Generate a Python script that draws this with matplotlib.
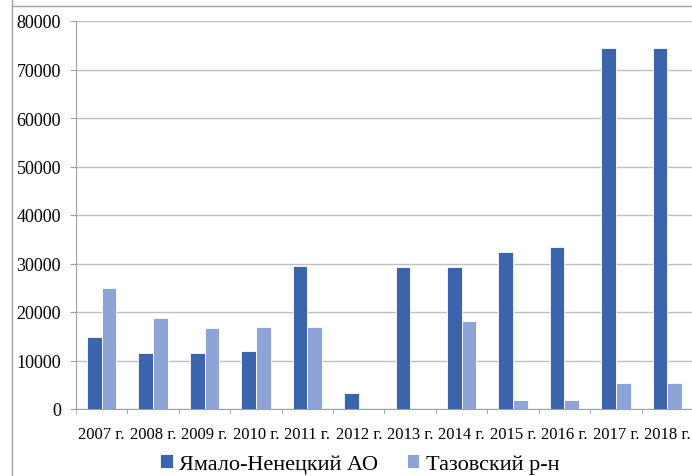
import numpy as np
import matplotlib.pyplot as plt
from matplotlib.lines import Line2D

years = ["2007 г.", "2008 г.", "2009 г.", "2010 г.", "2011 г.", "2012 г.",
         "2013 г.", "2014 г.", "2015 г.", "2016 г.", "2017 г.", "2018 г."]
yanao = [14900, 11600, 11600, 11900, 29500, 3300,
         29300, 29300, 32300, 33500, 74400, 74400]
tazov = [25000, 18700, 16600, 16900, 16900, 0,
         0, 18100, 1900, 1900, 5300, 5300]

plt.rcParams['font.family'] = ['Liberation Serif', 'DejaVu Serif']

fig = plt.figure(figsize=(6.92, 4.77), dpi=100)
ax = fig.add_axes([76 / 692, 1 - 410 / 477, 617 / 692, 388 / 477])

x = np.arange(len(years))
w = 0.285
ax.bar(x - w / 2, yanao, w, color="#3B64AD", edgecolor="white", linewidth=0.6,
       label="Ямало-Ненецкий АО", zorder=3)
ax.bar(x + w / 2, tazov, w, color="#8FA4D6", edgecolor="white", linewidth=0.6,
       label="Тазовский р-н", zorder=3)

ax.set_xlim(-0.5, len(years) - 0.5)
ax.set_ylim(0, 80000)
ax.set_yticks(range(0, 80001, 10000))
ax.set_yticklabels([str(v) for v in range(0, 80001, 10000)], fontsize=13)
ax.grid(axis="y", color="#C0C0C0", linewidth=1, zorder=0)

ax.set_xticks(x)
ax.set_xticklabels(years, fontsize=12)
ax.set_xticks(np.arange(-0.5, len(years)), minor=True)
ax.tick_params(axis="x", which="major", length=0, pad=12)
ax.tick_params(axis="x", which="minor", length=3.6, color="#A0A0A0")
ax.tick_params(axis="y", length=4.3, color="#A0A0A0", pad=6.5)

for s in ["top", "right"]:
    ax.spines[s].set_visible(False)
for s in ["left", "bottom"]:
    ax.spines[s].set_color("#A0A0A0")

ax.legend(loc="center", bbox_to_anchor=(360 / 692, 1 - 465 / 477), bbox_transform=fig.transFigure,
          ncol=2, frameon=False, fontsize=16, handlelength=0.55, handleheight=0.55,
          handletextpad=0.3, columnspacing=1.3, borderpad=0)

# outer frame lines
fig.add_artist(Line2D([12 / 692, 12 / 692], [0, 1], color="#A0A0A0", lw=1))
fig.add_artist(Line2D([12 / 692, 1], [1 - 7 / 477, 1 - 7 / 477], color="#A0A0A0", lw=1))

fig.savefig("out.png", dpi=100)
